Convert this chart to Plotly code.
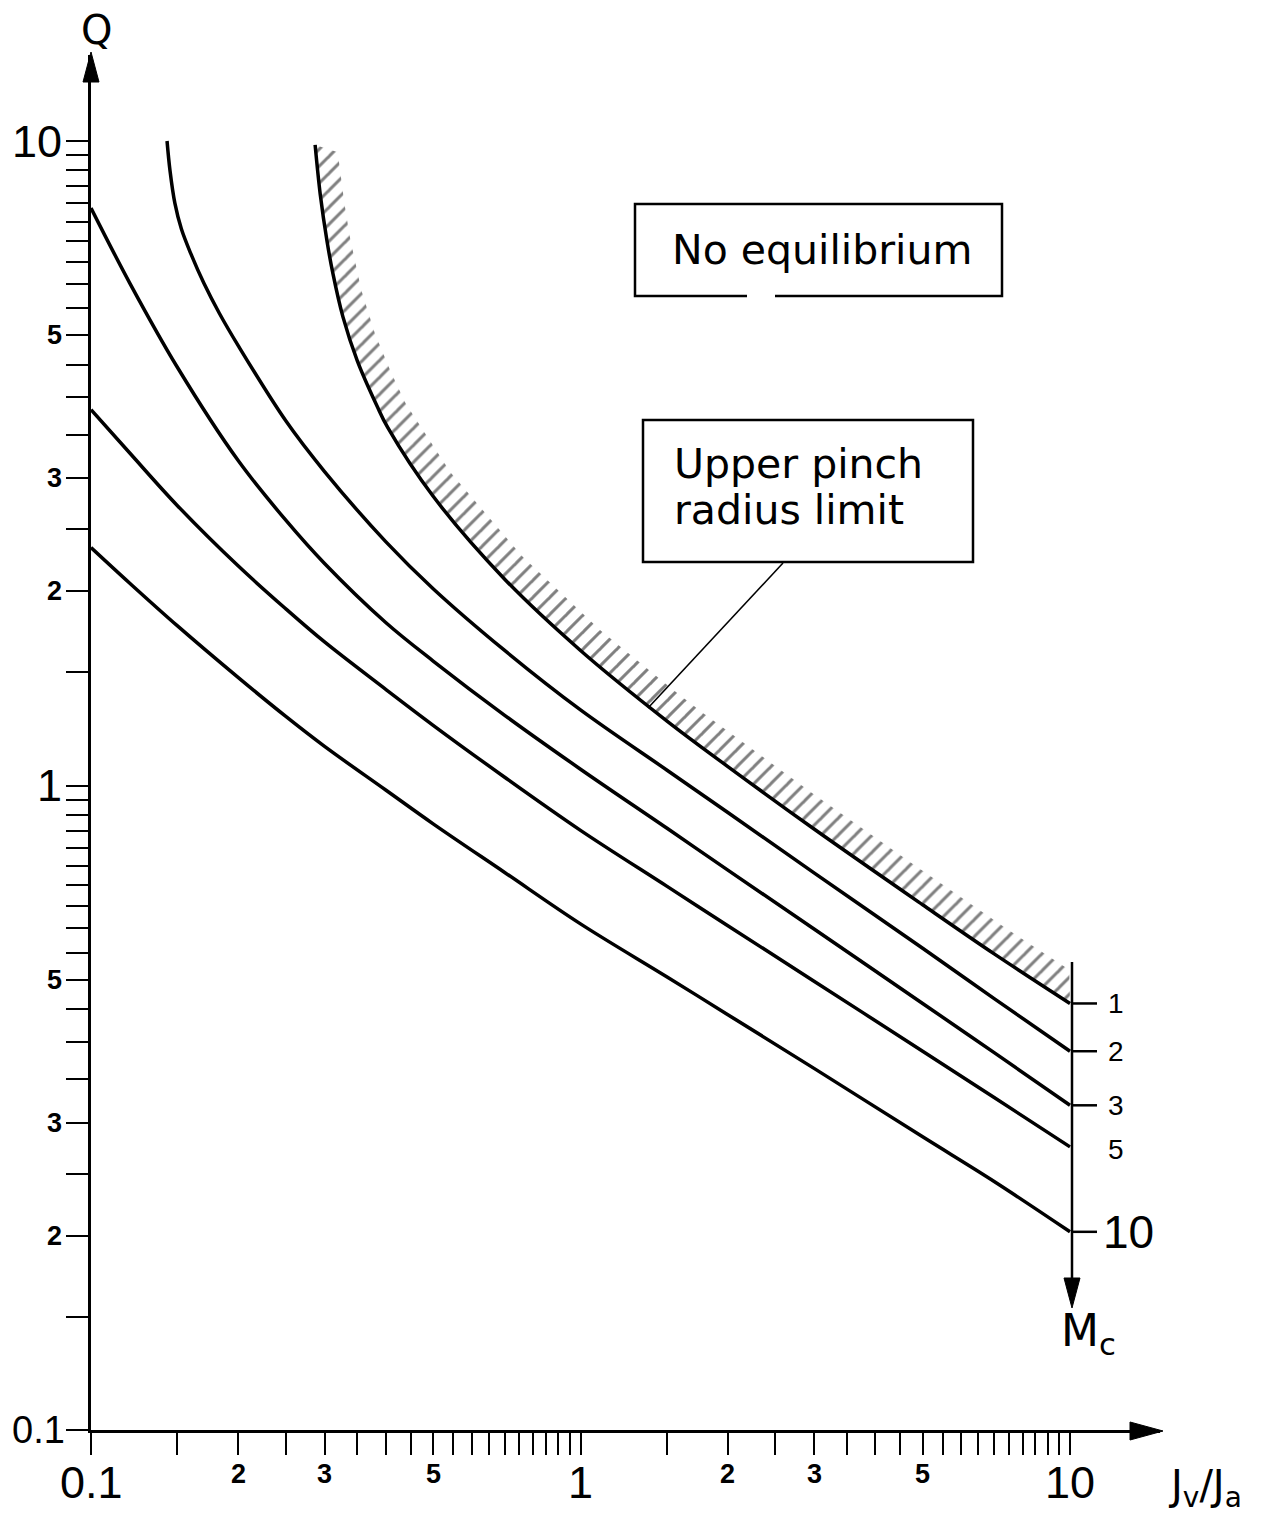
import numpy as np
import plotly.graph_objects as go

# ---------------- data ----------------
MC_LABELS = ["1", "2", "3", "5", "10"]
MC_TICKED = [True, True, True, False, True]

# M_c = 1 : upper pinch radius limit (hatched boundary)
X_MC1 = [0.287, 0.294, 0.3035, 0.312, 0.327, 0.35, 0.384, 0.404, 0.5, 0.7,
         1.0, 1.5, 2.0, 3.0, 5.0, 7.0, 10.0]
Q_MC1 = [9.86, 8.26, 6.99, 6.23, 5.34, 4.56, 3.88, 3.59, 2.81, 2.09,
         1.62, 1.26, 1.07, 0.856, 0.653, 0.548, 0.459]

# M_c = 2
X_MC2 = [0.143, 0.145, 0.1484, 0.153, 0.16, 0.17, 0.183, 0.2, 0.25, 0.3,
         0.4, 0.5, 0.7, 1.0, 1.5, 2.0, 3.0, 5.0, 7.0, 10.0]
Q_MC2 = [10.0, 9.0, 8.0, 7.3, 6.68, 6.02, 5.40, 4.81, 3.68, 3.07,
         2.39, 2.02, 1.62, 1.31, 1.057, 0.908, 0.732, 0.559, 0.467, 0.387]

# M_c = 3, 5, 10 share the same abscissae
X_STD = [0.1, 0.12, 0.15, 0.2, 0.25, 0.3, 0.4, 0.5, 0.7, 1.0, 1.5, 2.0, 3.0, 5.0, 7.0, 10.0]
Q_MC3 = [7.87, 6.02, 4.46, 3.19, 2.58, 2.21, 1.79, 1.56, 1.285, 1.06, 0.859, 0.739, 0.599, 0.459, 0.385, 0.319]
Q_MC5 = [3.83, 3.28, 2.72, 2.19, 1.88, 1.67, 1.41, 1.24, 1.03, 0.852, 0.698, 0.606, 0.497, 0.387, 0.328, 0.275]
Q_MC10 = [2.34, 2.06, 1.77, 1.47, 1.28, 1.15, 0.984, 0.872, 0.733, 0.61, 0.505, 0.441, 0.364, 0.285, 0.243, 0.203]

# axis ticks
TICK_MANTISSAS = [1, 1.5, 2, 2.5, 3, 3.5, 4, 4.5, 5, 5.5, 6, 6.5, 7, 7.5, 8, 8.5, 9, 9.5]
TICK_DECADES = [0.1, 1]
LABEL_VALS = [0.1, 0.2, 0.3, 0.5, 1, 2, 3, 5, 10]
LABEL_TEXT = ["0.1", "2", "3", "5", "1", "2", "3", "5", "10"]
LABEL_BIG = [True, False, False, False, True, False, False, False, True]

# ---------------- geometry (reference pixel frame) ----------------
PAGE_OFF = 8                      # default body margin of the html page
W, H = 1280 - PAGE_OFF, 1520 - PAGE_OFF
L, R, T, B = 91, 1160, 55, 1430   # plot area in page pixels
XDEC, YDEC = 489.5, 644.5          # pixels per decade
X_LOG = [-1, -1 + (R - L) / XDEC]
Y_LOG = [-1, -1 + (B - T) / YDEC]


def fx(p):
    return (p - L) / (R - L)


def fy(p):
    return (B - p) / (B - T)


def ly_paper(v):
    return (np.log10(v) - Y_LOG[0]) / (Y_LOG[1] - Y_LOG[0])


TICKS = [m * d for d in TICK_DECADES for m in TICK_MANTISSAS] + [10]

TXT = "DejaVu Sans"
NUM = "Liberation Sans, Arial, sans-serif"

fig = go.Figure()

# ---------------- hatched band above the M_c = 1 boundary ----------------
lx = np.log10(X_MC1)
lq = np.log10(Q_MC1)
ox = lx + 20 / XDEC
oy = lq + 20 / YDEC
gx = np.linspace(ox[0], ox[-1], 800)
gy = np.interp(gx, ox, oy)
keep = (gx <= lx[-1]) & (gy <= lq[0])
gx, gy = gx[keep], gy[keep]
bx = np.linspace(lx[0], lx[-1], 800)
by = np.interp(bx, lx, lq)
px_ = np.concatenate([bx, gx[::-1]])
py_ = np.concatenate([by, gy[::-1]])
fig.add_trace(go.Scatter(
    x=10 ** px_, y=10 ** py_, mode="lines", fill="toself",
    line=dict(width=0, color="rgba(0,0,0,0)"),
    fillcolor="rgba(0,0,0,0)",
    fillpattern=dict(shape="/", fgcolor="black", bgcolor="rgba(0,0,0,0)",
                     size=12, solidity=0.25),
    hoverinfo="skip", showlegend=False))

# ---------------- curves ----------------
curves = [(X_MC1, Q_MC1), (X_MC2, Q_MC2), (X_STD, Q_MC3), (X_STD, Q_MC5), (X_STD, Q_MC10)]
for (xs, qs), lab in zip(curves, MC_LABELS):
    fig.add_trace(go.Scatter(
        x=xs, y=qs, mode="lines", name="M_c = " + lab,
        line=dict(color="black", width=3.5, shape="spline", smoothing=1.0),
        hoverinfo="skip", showlegend=False))

shapes = []
ann = []

# axis arrowheads
shapes.append(dict(type="path", xref="paper", yref="paper",
                   path=f"M {fx(83)} {fy(82)} L {fx(99)} {fy(82)} L {fx(91)} {fy(52)} Z",
                   fillcolor="black", line=dict(color="black", width=1)))
shapes.append(dict(type="path", xref="paper", yref="paper",
                   path=f"M {fx(1130)} {fy(1422)} L {fx(1130)} {fy(1440)} L {fx(1163)} {fy(1431)} Z",
                   fillcolor="black", line=dict(color="black", width=1)))

# M_c scale on the right
shapes.append(dict(type="line", xref="paper", yref="paper",
                   x0=fx(1072), x1=fx(1072), y0=fy(962), y1=fy(1285),
                   line=dict(color="black", width=2.5)))
shapes.append(dict(type="path", xref="paper", yref="paper",
                   path=f"M {fx(1064)} {fy(1278)} L {fx(1080)} {fy(1278)} L {fx(1072)} {fy(1308)} Z",
                   fillcolor="black", line=dict(color="black", width=1)))
for (xs, qs), lab, ticked in zip(curves, MC_LABELS, MC_TICKED):
    yp = ly_paper(qs[-1])
    if ticked:
        shapes.append(dict(type="line", xref="paper", yref="paper",
                           x0=fx(1072), x1=fx(1097), y0=yp, y1=yp,
                           line=dict(color="black", width=2.5)))
    big = lab == "10"
    ann.append(dict(text=lab, xref="paper", yref="paper",
                    x=fx(1101 if big else 1106), y=yp - (0 if lab != "5" else 0.002),
                    xanchor="left", yanchor="middle", showarrow=False,
                    font=dict(family=NUM, size=46 if big else 28, color="black")))

# text boxes
shapes.append(dict(type="path", xref="paper", yref="paper",
                   path=(f"M {fx(747)} {fy(296)} L {fx(635)} {fy(296)} L {fx(635)} {fy(204)} "
                         f"L {fx(1002)} {fy(204)} L {fx(1002)} {fy(296)} L {fx(775)} {fy(296)}"),
                   line=dict(color="black", width=2.5)))
shapes.append(dict(type="rect", xref="paper", yref="paper",
                   x0=fx(643), x1=fx(973), y0=fy(420), y1=fy(562),
                   line=dict(color="black", width=2.5)))
shapes.append(dict(type="line", xref="paper", yref="paper",
                   x0=fx(783), y0=fy(563), x1=fx(648), y1=fy(708),
                   line=dict(color="black", width=1.6)))

ann.append(dict(text="No equilibrium", xref="paper", yref="paper",
                x=fx(822), y=fy(250), xanchor="center", yanchor="middle", showarrow=False,
                font=dict(family=TXT, size=41, color="black")))
ann.append(dict(text="Upper pinch", xref="paper", yref="paper",
                x=fx(672), y=fy(464), xanchor="left", yanchor="middle", showarrow=False,
                font=dict(family=TXT, size=41, color="black")))
ann.append(dict(text="radius limit", xref="paper", yref="paper",
                x=fx(672), y=fy(510), xanchor="left", yanchor="middle", showarrow=False,
                font=dict(family=TXT, size=41, color="black")))

# tick labels
for v, t, big in zip(LABEL_VALS, LABEL_TEXT, LABEL_BIG):
    f = dict(family=NUM, size=45 if big else 27, color="black",
             weight="normal" if big else "bold")
    ann.append(dict(text=t, xref="x", yref="paper", x=np.log10(v),
                    y=fy(1483 if big else 1474), xanchor="center", yanchor="middle",
                    showarrow=False, font=f))
    fy_lab = dict(f)
    xr = 64
    if t == "0.1":
        fy_lab["size"] = 38
        xr = 67
    ann.append(dict(text=t, xref="paper", yref="y", x=fx(xr),
                    y=np.log10(v), xanchor="right", yanchor="middle",
                    showarrow=False, font=fy_lab))

# axis titles
ann.append(dict(text="Q", xref="paper", yref="paper", x=fx(96), y=fy(30),
                xanchor="center", yanchor="middle", showarrow=False,
                font=dict(family=TXT, size=40, color="black")))
ann.append(dict(text="J<sub>v</sub>/J<sub>a</sub>", xref="paper", yref="paper",
                x=fx(1205), y=fy(1488), xanchor="center", yanchor="middle", showarrow=False,
                font=dict(family=TXT, size=40, color="black")))
ann.append(dict(text="M<sub>c</sub>", xref="paper", yref="paper",
                x=fx(1088), y=fy(1333), xanchor="center", yanchor="middle", showarrow=False,
                font=dict(family=TXT, size=44, color="black")))

axis_common = dict(type="log", showgrid=False, zeroline=False, showline=True,
                   linecolor="black", linewidth=3, ticks="outside", ticklen=22,
                   tickwidth=2.2, tickcolor="black", tickmode="array", tickvals=TICKS,
                   showticklabels=False, automargin=False, fixedrange=True)

fig.update_layout(
    width=W, height=H, autosize=False,
    margin=dict(l=L - PAGE_OFF, r=W - (R - PAGE_OFF), t=T - PAGE_OFF,
                b=H - (B - PAGE_OFF), pad=0),
    paper_bgcolor="white", plot_bgcolor="white",
    xaxis=dict(range=X_LOG, **axis_common),
    yaxis=dict(range=Y_LOG, **axis_common),
    shapes=shapes, annotations=ann, showlegend=False,
)

fig.write_html("out.html")
